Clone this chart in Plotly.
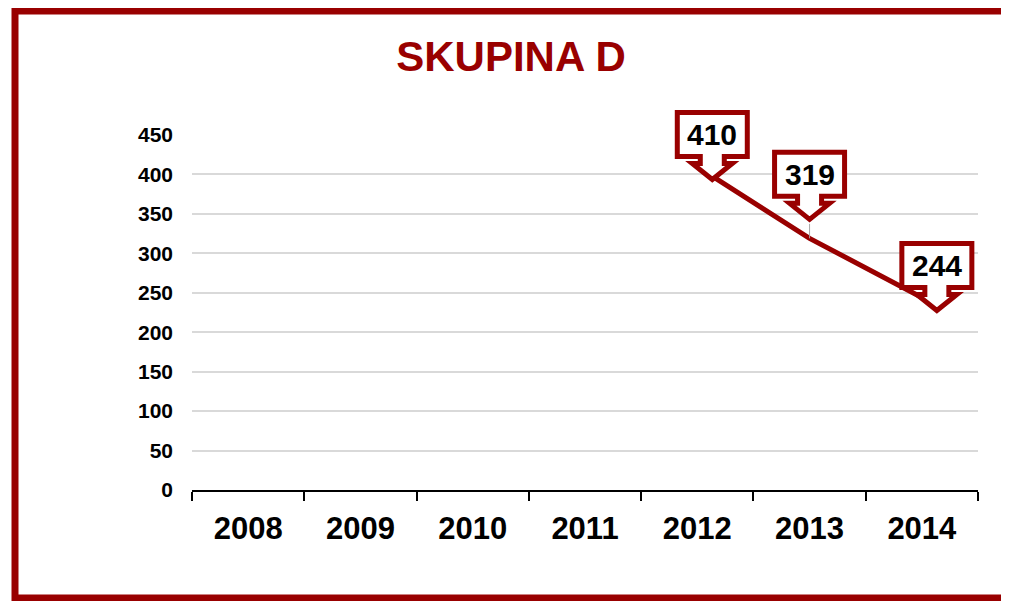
import plotly.graph_objects as go

# chart values
years = ['2008', '2009', '2010', '2011', '2012', '2013', '2014']
counts = [None, None, None, None, 410, 319, 244]
y_ticks = [0, 50, 100, 150, 200, 250, 300, 350, 400, 450]

title_text = 'SKUPINA D'
dark_red = '#990000'
y_max = 450

# the page has an 8px body margin, so the figure is drawn 8px smaller
OFF = 8
W, H = 1009 - OFF, 601 - OFF
L, R, T, B = 192 - OFF, 31, 135 - OFF, 111

fig = go.Figure()

fig.add_trace(go.Scatter(
    x=years, y=counts, mode='lines',
    line=dict(color=dark_red, width=5),
    connectgaps=False, showlegend=False, hoverinfo='skip'
))

# callout offsets (pixels) of the pointer tip relative to each point
tip_offsets = {'2012': (15, -16), '2013': (0, 16), '2014': (15, -16)}

# callout outline: box + down arrow, drawn relative to the tip
callout = [(-35, 26), (-35, 70), (35, 70), (35, 26), (12, 26), (12, 19),
           (20, 19), (0, 3), (-20, 19), (-12, 19), (-12, 26)]

for i, (yr, val) in enumerate(zip(years, counts)):
    if val is None:
        continue
    dx, dy = tip_offsets[yr]
    path = 'M' + 'L'.join(f'{px + dx},{py + dy}' for px, py in callout) + 'Z'
    if dy > 0:
        # thin leader from the point up to the callout tip
        fig.add_annotation(
            x=i, y=val, text='', showarrow=True, ax=0, ay=-dy,
            arrowhead=0, arrowwidth=1, arrowcolor='#a6a6a6', standoff=0
        )
    fig.add_shape(
        type='path', path=path,
        xref='paper', yref='paper', xsizemode='pixel', ysizemode='pixel',
        xanchor=(i + 0.5) / len(years), yanchor=val / y_max,
        line=dict(color=dark_red, width=5), fillcolor='white', layer='above'
    )
    fig.add_annotation(
        x=i, y=val, text='<b>%d</b>' % val, showarrow=False,
        xshift=dx, yshift=dy + 48,
        font=dict(family='Liberation Sans', size=30, color='black')
    )

# outer frame (page pixel positions)
def px_x(p):
    return (p - OFF - L) / (W - L - R)

def px_y(p):
    return (H + OFF - B - p) / (H - T - B)

fig.add_shape(
    type='rect', xref='paper', yref='paper',
    x0=px_x(15), x1=px_x(1006), y0=px_y(598), y1=px_y(11),
    line=dict(color=dark_red, width=7), layer='above'
)

fig.update_layout(
    width=W, height=H,
    margin=dict(l=L, r=R, t=T, b=B),
    paper_bgcolor='white', plot_bgcolor='white',
    title=dict(
        text=title_text, x=(511 - OFF) / W, xanchor='center', y=1 - (56 - OFF) / H, yanchor='middle',
        xref='container', yref='container',
        font=dict(family='Liberation Sans', size=42, color=dark_red, weight='bold')
    ),
    xaxis=dict(
        type='category', categoryorder='array', categoryarray=years,
        range=[-0.5, len(years) - 0.5],
        showline=True, linecolor='black', linewidth=1.5,
        ticks='outside', tickson='boundaries', ticklen=9, tickwidth=1.5, tickcolor='black',
        showgrid=False, ticklabelstandoff=10,
        tickfont=dict(family='Liberation Sans', size=31, color='black', weight='bold')
    ),
    yaxis=dict(
        range=[0, y_max], tickvals=y_ticks,
        showgrid=True, gridcolor='#d9d9d9', gridwidth=2,
        zeroline=False, showline=False, ticks='',
        ticklabelstandoff=18,
        tickfont=dict(family='Liberation Sans', size=21, color='black', weight='bold')
    ),
)

fig.write_html('out.html')
